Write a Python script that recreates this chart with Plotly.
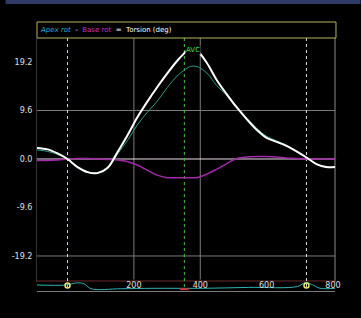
import plotly.graph_objects as go

# ---------------- data ----------------
time_ms = [-92, -60, -30, 0, 30, 60, 90, 120, 150, 180, 210, 240, 270, 300, 330, 350,
           370, 390, 420, 450, 480, 510, 540, 570, 600, 630, 660, 690, 720, 750, 780, 806]
torsion = [2.2, 1.9, 1.1, 0.0, -1.6, -2.6, -2.8, -1.8, 1.3, 4.6, 8.2, 11.3, 14.2, 16.9, 19.4, 20.8,
           22.0, 21.5, 19.0, 15.6, 12.8, 10.2, 7.9, 5.8, 4.2, 3.4, 2.6, 1.5, 0.3, -1.0, -1.6, -1.6]
apex_rot = [1.8, 1.5, 0.9, 0.0, -1.5, -2.5, -2.8, -1.9, 0.9, 3.6, 6.7, 9.2, 11.4, 14.1, 16.4, 17.5,
            18.3, 18.3, 17.0, 14.5, 12.6, 10.4, 8.1, 6.1, 4.5, 3.6, 2.7, 1.6, 0.3, -1.0, -1.6, -1.6]
base_rot = [-0.3, -0.3, -0.2, 0.0, 0.1, 0.1, 0.0, -0.1, -0.2, -0.5, -1.2, -2.2, -3.2, -3.7, -3.7, -3.7,
            -3.7, -3.7, -3.0, -2.0, -0.9, 0.1, 0.4, 0.5, 0.5, 0.4, 0.2, 0.1, 0.0, 0.0, 0.0, 0.0]

strip_x = [-92, -3, 27, 50, 71, 160, 258, 406, 545, 693, 717, 738, 761, 806]
strip_y = [0.67, 0.67, 0.90, 0.80, 0.25, 0.25, 0.30, 0.30, 0.40, 0.50, 0.95, 0.70, 0.30, 0.30]

event_x = [0, 720]
avc_x = 352

ytick_vals = [19.2, 9.6, 0.0, -9.6, -19.2]
ytick_text = ["19.2", "9.6", "0.0", "-9.6", "-19.2"]
xtick_vals = [200, 400, 600, 800]
xtick_text = ["200", "400", "600", "800"]
grid_y = [9.6, -19.2]
grid_x = [200, 400]

# ---------------- layout geometry ----------------
W, H = 361, 318
ML, MR, MT, MB = 32, 26, 38, 27
PW, PH = W - ML - MR, H - MT - MB
strip_top = 9 / PH

def px_y(py):
    return (H - MB - py) / PH

def px_x(px):
    return (px - ML) / PW

fig = go.Figure()

fig.add_trace(go.Scatter(x=time_ms, y=base_rot, mode="lines", line=dict(color="#a22aa6", width=1.5, shape="spline"),
                         hoverinfo="skip", showlegend=False))
fig.add_trace(go.Scatter(x=time_ms, y=apex_rot, mode="lines", line=dict(color="#2e9c8c", width=1, shape="spline"),
                         hoverinfo="skip", showlegend=False))
fig.add_trace(go.Scatter(x=time_ms, y=torsion, mode="lines", line=dict(color="#ffffff", width=2, shape="spline"),
                         hoverinfo="skip", showlegend=False))

# bottom strip
fig.add_trace(go.Scatter(x=strip_x, y=strip_y, mode="lines", line=dict(color="#2fb3b3", width=1, shape="spline"),
                         yaxis="y2", hoverinfo="skip", showlegend=False))
fig.add_trace(go.Scatter(x=event_x, y=[0.6, 0.6], mode="markers", yaxis="y2", cliponaxis=False,
                         marker=dict(symbol="circle-open", color="#e8e870", size=5, line=dict(width=1.5)),
                         hoverinfo="skip", showlegend=False))
fig.add_trace(go.Scatter(x=[avc_x], y=[0.2], mode="markers", yaxis="y2", cliponaxis=False,
                         marker=dict(symbol="line-ew", color="#d03030", size=6, line=dict(width=2, color="#d03030")),
                         hoverinfo="skip", showlegend=False))

shapes = []
# top navy band
shapes.append(dict(type="rect", xref="paper", yref="paper", x0=px_x(0), x1=px_x(W), y0=px_y(4), y1=px_y(-2),
                   fillcolor="#2d3a66", line=dict(width=0), layer="above"))
# legend box
shapes.append(dict(type="rect", xref="paper", yref="paper", x0=px_x(32), x1=px_x(336), y0=px_y(38), y1=px_y(22),
                   fillcolor="rgba(0,0,0,0)", line=dict(color="#b4b45a", width=1), layer="above"))
# grid lines
for gy in grid_y:
    shapes.append(dict(type="line", xref="paper", yref="y", x0=0, x1=1, y0=gy, y1=gy,
                       line=dict(color="#7c7c7c", width=1), layer="below"))
for gx in grid_x:
    shapes.append(dict(type="line", xref="x", yref="paper", x0=gx, x1=gx, y0=strip_top + 0.01, y1=1,
                       line=dict(color="#7c7c7c", width=1), layer="below"))
# right border
shapes.append(dict(type="line", xref="paper", yref="paper", x0=1, x1=1, y0=strip_top, y1=1,
                   line=dict(color="#8a8a8a", width=1), layer="below"))
# zero line
shapes.append(dict(type="line", xref="paper", yref="y", x0=0, x1=1, y0=0, y1=0,
                   line=dict(color="#eadcea", width=1), layer="below"))
# strip top line
shapes.append(dict(type="line", xref="paper", yref="paper", x0=0, x1=1, y0=strip_top + 0.004, y1=strip_top + 0.004,
                   line=dict(color="#6a2c2c", width=1), layer="below"))
# event dotted lines
for ex, col in [(event_x[0], "#dcdcb0"), (avc_x, "#4cc04c"), (event_x[1], "#dcdcdc")]:
    shapes.append(dict(type="line", xref="x", yref="paper", x0=ex, x1=ex, y0=px_y(287), y1=1,
                       line=dict(color=col, width=1, dash="dot"), layer="below"))

legend_text = ("<i><span style='color:#2aa8d8'>Apex rot</span></i>"
               "\u00a0\u00a0-\u00a0\u00a0<span style='color:#c030d0'>Base rot</span>"
               "\u00a0\u00a0=\u00a0\u00a0<span style='color:#ffffff'>Torsion (deg)</span>")

annotations = [
    dict(text=legend_text, xref="paper", yref="paper", x=px_x(33), y=px_y(30), xanchor="left", yanchor="middle",
         showarrow=False, font=dict(family="DejaVu Sans", size=7, color="#ffffff")),
    dict(text="AVC", xref="x", yref="paper", x=avc_x + 3, y=px_y(50), xanchor="left", yanchor="middle",
         showarrow=False, bgcolor="#000000", borderpad=0,
         font=dict(family="DejaVu Sans", size=7, color="#44e044")),
]

fig.update_layout(
    width=W, height=H,
    margin=dict(l=ML, r=MR, t=MT, b=MB, pad=0),
    paper_bgcolor="#000000", plot_bgcolor="#000000",
    showlegend=False,
    shapes=shapes,
    annotations=annotations,
    xaxis=dict(range=[-92, 806], anchor="y2", tickmode="array", tickvals=xtick_vals, ticktext=xtick_text,
               ticklabelposition="inside", ticklabeloverflow="allow", ticks="", showgrid=False, zeroline=False,
               showline=True, linecolor="#7a7a7a", linewidth=1,
               tickfont=dict(family="DejaVu Sans", size=8, color="#e0e0e0")),
    yaxis=dict(domain=[strip_top, 1], range=[-24.35, 23.95], anchor="x", tickmode="array",
               tickvals=ytick_vals, ticktext=ytick_text, ticks="", showgrid=False, zeroline=False,
               showline=True, linecolor="#333333", linewidth=1, ticklabelstandoff=2,
               tickfont=dict(family="DejaVu Sans", size=8, color="#e0e0e0")),
    yaxis2=dict(domain=[0, strip_top], range=[0, 1], anchor="x", showticklabels=False, ticks="",
                showgrid=False, zeroline=False, showline=False),
)

fig.write_html("out.html")
